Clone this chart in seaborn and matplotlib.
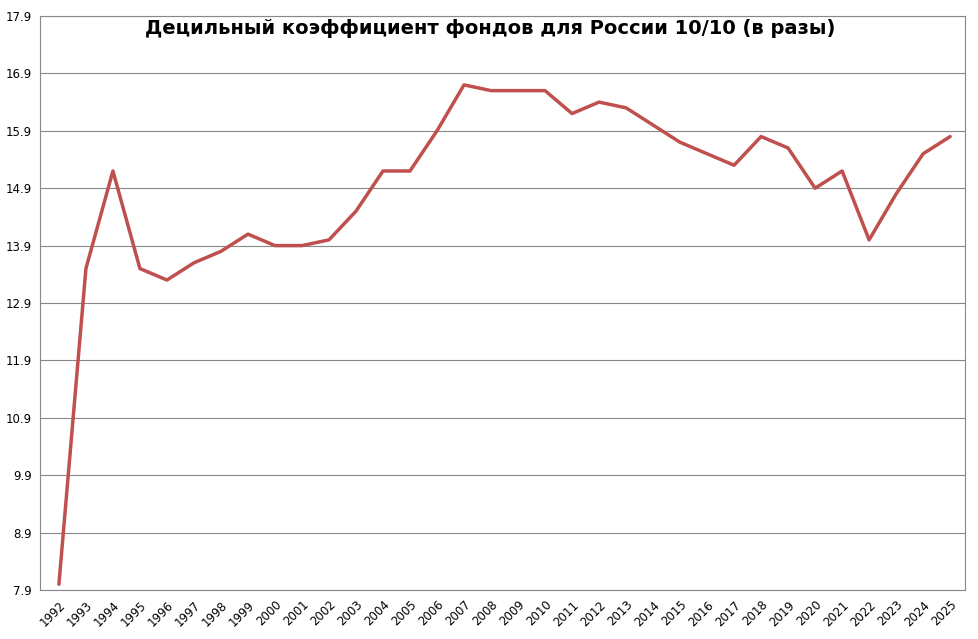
import numpy as np
import pandas as pd
import seaborn as sns
from matplotlib import pyplot as plt

years = list(range(1992, 2026))
values = [8.0, 13.5, 15.2, 13.5, 13.3, 13.6, 13.8, 14.1, 13.9, 13.9,
          14.0, 14.5, 15.2, 15.2, 15.9, 16.7, 16.6, 16.6, 16.6, 16.2,
          16.4, 16.3, 16.0, 15.7, 15.5, 15.3, 15.8, 15.6, 14.9, 15.2,
          14.0, 14.8, 15.5, 15.8]
yticks = [7.9, 8.9, 9.9, 10.9, 11.9, 12.9, 13.9, 14.9, 15.9, 16.9, 17.9]

df = pd.DataFrame({'pos': np.arange(len(years)), 'value': values})

sns.set_style('white')
plt.rcParams['font.family'] = ['DejaVu Sans']

fig = plt.figure(figsize=(9.79, 6.39), dpi=100)
ax = fig.add_axes([40 / 979, 1 - 590 / 639, 925 / 979, 574 / 639])
sns.lineplot(data=df, x='pos', y='value', color='#c0504d', linewidth=2.5, ax=ax)

ax.set_xlim(-0.7, len(years) - 1 + 0.55)
ax.set_ylim(7.9, 17.9)
ax.set_yticks(yticks)
ax.set_yticklabels([f'{t:.1f}' for t in yticks], fontsize=8.5, color='black')
ax.set_xticks(df.pos)
ax.set_xticklabels(years, rotation=45, fontsize=8.5, color='black',
                   ha='right', rotation_mode='anchor')
ax.yaxis.grid(True, color='#888888', linewidth=0.8)
for s in ax.spines.values():
    s.set_color('#888888')
ax.tick_params(axis='both', length=3, color='#888888', pad=3)
ax.set_xlabel('')
ax.set_ylabel('')
fig.text(490 / 979, 1 - 28 / 639,
         'Децильный коэффициент фондов для России 10/10 (в разы)',
         fontsize=14, fontweight='bold', color='black', ha='center', va='center')

fig.savefig('out.png', dpi=100)
